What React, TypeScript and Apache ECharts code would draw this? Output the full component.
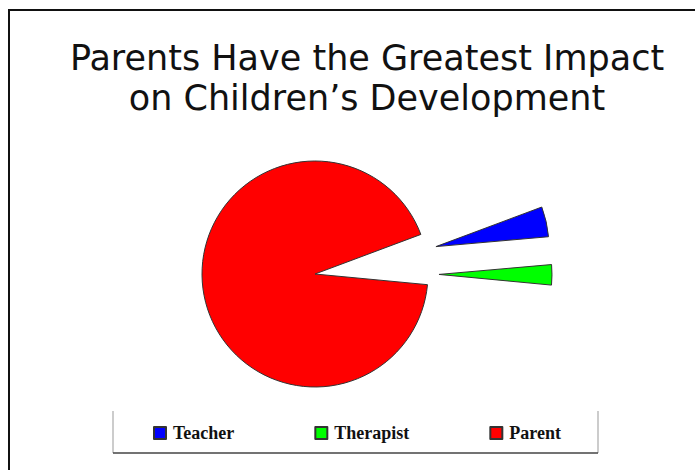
import React, { useEffect, useRef } from "react";
import * as echarts from "echarts";

const titleLines = ["Parents Have the Greatest Impact", "on Children\u2019s Development"];
const categories = ["Teacher", "Therapist", "Parent"];
const shares = [4.3, 2.9, 92.8];
const colors = ["#0000FF", "#00FF00", "#FF0000"];

export default function App() {
  const ref = useRef<HTMLDivElement>(null);
  useEffect(() => {
    if (!ref.current) return;
    const chart = echarts.init(ref.current, undefined, { renderer: "svg" });
    chart.setOption({
      animation: false,
      backgroundColor: "#ffffff",
      title: {
        text: titleLines.join("\n"),
        left: 367,
        textAlign: "center",
        top: 38,
        padding: 0,
        textStyle: {
          fontFamily: "DejaVu Sans",
          fontWeight: "normal",
          fontSize: 35,
          lineHeight: 40,
          color: "#111111",
        },
      },
      legend: {
        data: categories,
        left: 153,
        top: 424,
        padding: 0,
        orient: "horizontal",
        icon: "rect",
        itemWidth: 12,
        itemHeight: 12,
        itemGap: 80,
        selectedMode: false,
        textStyle: {
          fontFamily: "Liberation Serif",
          fontWeight: "bold",
          fontSize: 18,
          color: "#111111",
          padding: [0, 0, 0, 2],
        },
      },
      graphic: [
        { type: "line", shape: { x1: 8, y1: 10, x2: 695, y2: 10 }, style: { stroke: "#111", lineWidth: 2 }, silent: true },
        { type: "line", shape: { x1: 9, y1: 10, x2: 9, y2: 470 }, style: { stroke: "#111", lineWidth: 2 }, silent: true },
        { type: "line", shape: { x1: 113, y1: 411, x2: 113, y2: 453 }, style: { stroke: "#999", lineWidth: 1 }, silent: true },
        { type: "line", shape: { x1: 598, y1: 411, x2: 598, y2: 453 }, style: { stroke: "#999", lineWidth: 1 }, silent: true },
        { type: "line", shape: { x1: 113, y1: 453, x2: 598, y2: 453 }, style: { stroke: "#444", lineWidth: 1.5 }, silent: true },
      ],
      series: [
        {
          type: "pie",
          center: [315, 274],
          radius: 113,
          startAngle: 20.5,
          clockwise: true,
          selectedMode: "multiple",
          selectedOffset: 124,
          avoidLabelOverlap: false,
          label: { show: false },
          labelLine: { show: false },
          emphasis: { disabled: true, scale: false },
          itemStyle: { borderColor: "#333333", borderWidth: 1 },
          data: categories.map((name, i) => ({
            name,
            value: shares[i],
            selected: i < 2,
            itemStyle: { color: colors[i] },
          })),
        },
      ],
    });
    return () => chart.dispose();
  }, []);
  return (
    <div
      ref={ref}
      style={{ position: "absolute", left: 0, top: 0, width: 695, height: 470 }}
    />
  );
}
